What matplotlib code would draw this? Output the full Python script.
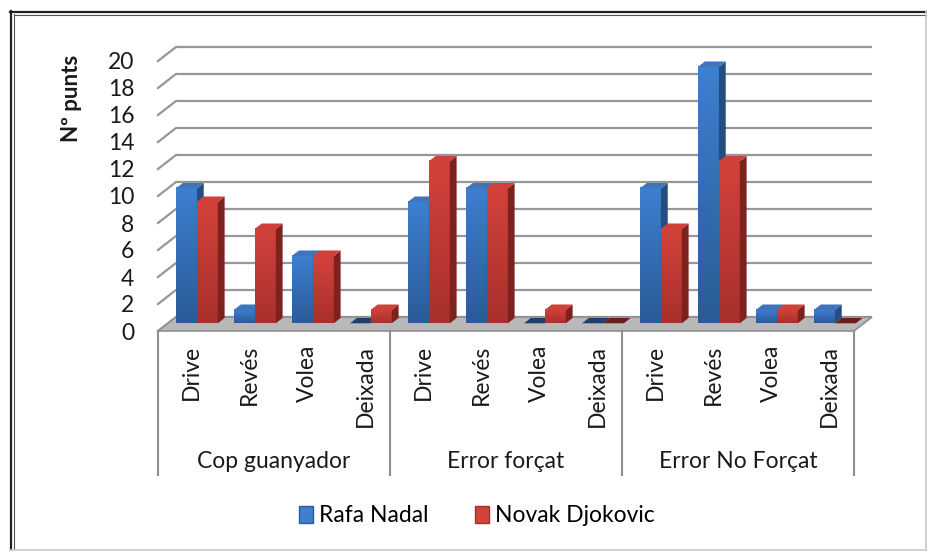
import matplotlib
matplotlib.use("Agg")
import matplotlib.pyplot as plt
from matplotlib.patches import Polygon, Patch
from matplotlib.lines import Line2D
from matplotlib.colors import LinearSegmentedColormap
import numpy as np

plt.rcParams['font.family'] = ['Lato', 'DejaVu Sans']

# data
groups = ["Cop guanyador", "Error forçat", "Error No Forçat"]
shots = ["Drive", "Revés", "Volea", "Deixada"]
series = ["Rafa Nadal", "Novak Djokovic"]
nadal = [10, 1, 5, 0, 9, 10, 0, 0, 10, 19, 1, 1]
djokovic = [9, 7, 5, 1, 12, 10, 1, 0, 7, 12, 1, 0]
yticks = list(range(0, 21, 2))

FS = 16.5
W, H = 928, 552
fig = plt.figure(figsize=(W / 100, H / 100), dpi=100)

# front plane of the plot in pixels
px_left, px_right = 158, 854
px_bottom, px_top = 331, 61
ax = fig.add_axes([px_left / W, 1 - px_bottom / H,
                   (px_right - px_left) / W, (px_bottom - px_top) / H])
n = len(nadal)
XMIN, XMAX = -0.5, n - 0.5
slot_px = (px_right - px_left) / n
unit_px = (px_bottom - px_top) / 20.0

# depth of the 3d box (pixels -> data units)
DX = 18 / slot_px
DY = 14 / unit_px
F = 0.55      # where the bar front sits in the depth
BD = 0.38     # bar depth
BW = 0.36     # bar width

grid_col = "#979797"
for v in yticks:
    ax.plot([XMIN + DX, XMAX + DX], [v + DY, v + DY], color=grid_col, lw=1.6,
            zorder=1, clip_on=False, solid_capstyle="butt")
    ax.plot([XMIN, XMIN + DX], [v, v + DY], color=grid_col, lw=1.6,
            zorder=1, clip_on=False)

# floor
floor = Polygon([[XMIN, 0], [XMAX, 0], [XMAX + DX, DY], [XMIN + DX, DY]],
                closed=True, facecolor="#b8b8b8", edgecolor="#8f8f8f",
                lw=1.2, zorder=2, clip_on=False)
ax.add_patch(floor)

colors = {
    "Rafa Nadal": dict(top="#3f74bb", light="#3d7fd0", dark="#2b5b98",
                       side="#254d82", flat="#1f3f6e"),
    "Novak Djokovic": dict(top="#cf4038", light="#d3423b", dark="#a8302c",
                           side="#7e2220", flat="#6e1c1a"),
}

grad = np.linspace(0, 1, 64).reshape(-1, 1)
z = 3
for i in range(n):
    for k, (name, vals) in enumerate(zip(series, [nadal, djokovic])):
        val = vals[i]
        c = colors[name]
        x0 = i - BW + k * BW + F * DX
        x1 = x0 + BW
        y0 = F * DY
        y1 = y0 + val
        ddx, ddy = BD * DX, BD * DY
        if val > 0:
            cmap = LinearSegmentedColormap.from_list("g", [c["dark"], c["light"]])
            ax.imshow(grad, extent=[x0, x1, y0, y1], origin="lower",
                      aspect="auto", cmap=cmap, zorder=z, clip_on=False)
            ax.add_patch(Polygon([[x1, y0], [x1 + ddx, y0 + ddy],
                                  [x1 + ddx, y1 + ddy], [x1, y1]],
                                 facecolor=c["side"], edgecolor="none",
                                 zorder=z + 0.1, clip_on=False))
            top_col = c["top"]
        else:
            top_col = c["flat"]
        ax.add_patch(Polygon([[x0, y1], [x1, y1], [x1 + ddx, y1 + ddy],
                              [x0 + ddx, y1 + ddy]],
                             facecolor=top_col, edgecolor="none",
                             zorder=z + 0.2, clip_on=False))
        z += 1

ax.set_xlim(XMIN, XMAX)
ax.set_ylim(0, 20)
ax.set_yticks(yticks)
ax.set_xticks([])
ax.tick_params(axis="y", length=0, pad=17, labelsize=FS, labelcolor="#1a1a1a")
for s in ax.spines.values():
    s.set_visible(False)
ax.patch.set_visible(False)

# category box below the floor
tr = ax.get_xaxis_transform()
box_bottom = -(475 - px_bottom) / (px_bottom - px_top)
box_col = "#8f8f8f"
for xb in [XMIN, 3.5, 7.5, XMAX]:
    ax.plot([xb, xb], [0, box_bottom], transform=tr, color=box_col, lw=1.5,
            clip_on=False, zorder=2)

lab_top = -(345 - px_bottom) / (px_bottom - px_top)
for i in range(n):
    ax.text(i + 0.08, lab_top, shots[i % 4], transform=tr, rotation=90,
            ha="center", va="top", fontsize=FS, color="#1a1a1a")
grp_y = -(461 - px_bottom) / (px_bottom - px_top)
for g, name in enumerate(groups):
    ax.text(g * 4 + 1.5, grp_y, name, transform=tr, ha="center",
            va="center", fontsize=FS, color="#1a1a1a")

fig.text(72 / W, 1 - 98 / H, "Nº punts", rotation=90, ha="center",
         va="center", fontsize=16, fontweight="bold", color="#1a1a1a")

handles = [Patch(facecolor=colors[s]["light"], edgecolor=colors[s]["dark"],
                 label=s) for s in series]
fig.legend(handles=handles, loc="center", bbox_to_anchor=(0.514, 1 - 516 / H),
           ncol=2, frameon=False, fontsize=FS, handlelength=0.6,
           handleheight=0.7, handletextpad=0.3, columnspacing=2.0)

# outer frame
fig.add_artist(Line2D([11 / W, 11 / W], [1 - 11 / H, 1 - 549 / H],
                      transform=fig.transFigure, color="#222222", lw=1.6))
fig.add_artist(Line2D([10 / W, 926 / W], [1 - 12 / H, 1 - 12 / H],
                      transform=fig.transFigure, color="#222222", lw=1.6))
fig.add_artist(Line2D([14.5 / W, 14.5 / W], [1 - 14 / H, 1 - 549 / H],
                      transform=fig.transFigure, color="#555555", lw=0.8))
fig.add_artist(Line2D([14 / W, 926 / W], [1 - 15 / H, 1 - 15 / H],
                      transform=fig.transFigure, color="#555555", lw=0.8))
fig.add_artist(Line2D([926 / W, 926 / W], [1 - 11 / H, 1 - 550 / H],
                      transform=fig.transFigure, color="#c8c8c8", lw=1.2))
fig.add_artist(Line2D([10 / W, 926 / W], [1 - 550 / H, 1 - 550 / H],
                      transform=fig.transFigure, color="#c8c8c8", lw=1.2))

fig.savefig("out.png", dpi=100)
